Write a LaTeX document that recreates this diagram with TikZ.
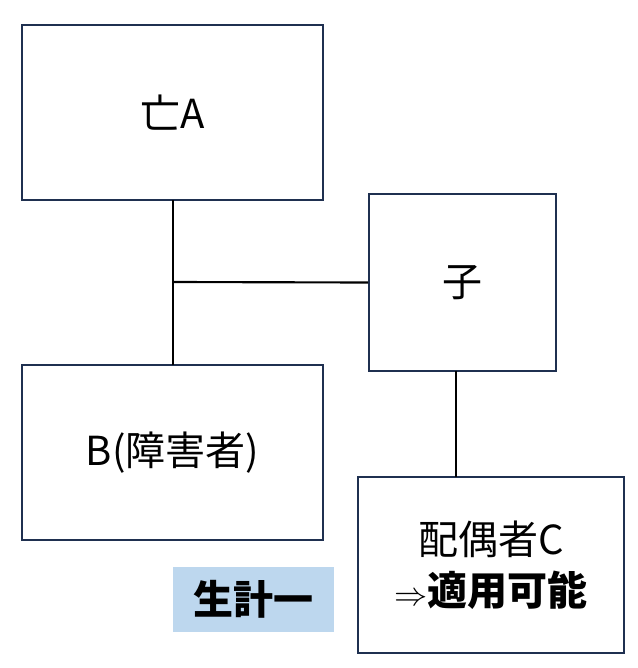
\documentclass[tikz,border=0pt]{standalone}
\usepackage{fontspec}
\setmainfont{Noto Sans CJK JP}
\usetikzlibrary{positioning}
\definecolor{boxline}{HTML}{1F3050}
\definecolor{tagfill}{HTML}{BDD7EE}
\tikzset{
  person/.style={draw=boxline, line width=1.3pt, inner sep=0pt, align=center, font=\fontsize{30}{38}\selectfont},
  tie/.style={line width=1.6pt, black}
}
\begin{document}
\begin{tikzpicture}[x=0.75pt, y=-0.75pt]
\useasboundingbox (0,0) rectangle (638,668);
\node[person, minimum width=301*0.75pt, minimum height=175*0.75pt] (dead) at (172.5,112.5) {亡A};
\node[person, minimum width=187*0.75pt, minimum height=177*0.75pt] (child) at (462.5,282.5) {子};
\node[person, minimum width=301*0.75pt, minimum height=175*0.75pt] (wife) at (172.5,452.5) {B(障害者)};
\node[person, minimum width=266*0.75pt, minimum height=176*0.75pt] (spouse) at (491,565) {配偶者C\\$\Rightarrow$\textbf{適用可能}};
\node[fill=tagfill, minimum width=161*0.75pt, minimum height=65*0.75pt, font=\fontsize{30}{36}\selectfont\bfseries] (tag) at (253.5,599.5) {生計一};
\draw[tie] (173,200) -- (173,365);
\draw[tie] (173,282) -- (child.west);
\draw[tie] (456,371) -- (456,477);
\end{tikzpicture}
\end{document}
